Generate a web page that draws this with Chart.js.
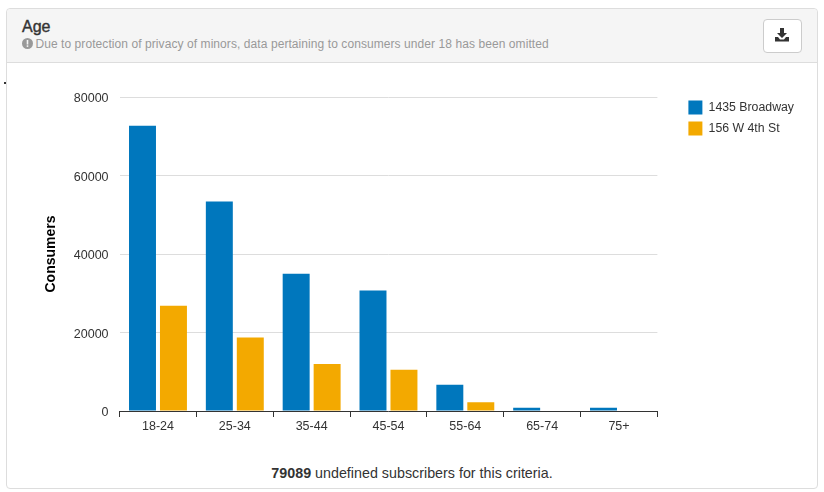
<!DOCTYPE html>
<html>
<head>
<meta charset="utf-8">
<script src="https://cdn.jsdelivr.net/npm/chart.js@4"></script>
<style>
    html, body { margin: 0; padding: 0; background: #fff; }
    body { width: 824px; height: 492px; position: relative; overflow: hidden; font-family: "Liberation Sans", Arial, sans-serif; }
    .panel { position: absolute; left: 6px; top: 8px; width: 810px; height: 479px; border: 1px solid #ddd; border-radius: 4px; }
    .panel-head { position: absolute; left: 0; top: 0; width: 100%; height: 53px; background: #f5f5f5; border-bottom: 1px solid #ddd; border-radius: 4px 4px 0 0; }
    .panel-title { position: absolute; left: 15px; top: 9px; font-size: 16px; line-height: 18px; color: #333; -webkit-text-stroke: 0.4px #333; }
    .panel-note { position: absolute; left: 15px; top: 27px; font-size: 12px; letter-spacing: 0.075px; line-height: 16px; color: #999; white-space: nowrap; }
    .panel-note svg { vertical-align: -1px; margin-right: -1px; }
    .btn { position: absolute; left: 756px; top: 10px; width: 37px; height: 32px; background: #fff; border: 1px solid #ccc; border-radius: 4px; }
    .btn svg { position: absolute; left: 11px; top: 8px; }
    .foot { position: absolute; left: 0; top: 465px; width: 824px; text-align: center; font-size: 14.3px; line-height: 16px; color: #333; }
    .dot { position: absolute; left: 4px; top: 82px; width: 2px; height: 2px; background: #333; }
    canvas { position: absolute; left: 0; top: 0; }
</style>
</head>
<body>
<div class="panel">
    <div class="panel-head">
        <div class="panel-title">Age</div>
        <div class="panel-note"><svg width="11" height="11" viewBox="0 0 11 11"><circle cx="5.5" cy="5.5" r="5.5" fill="#999"/><rect x="4.7" y="2" width="1.6" height="4.5" fill="#f5f5f5"/><rect x="4.7" y="7.3" width="1.6" height="1.6" fill="#f5f5f5"/></svg> Due to protection of privacy of minors, data pertaining to consumers under 18 has been omitted</div>
        <div class="btn"><svg width="14" height="14" viewBox="0 0 14 14"><path d="M5 0h4v5h3L7 10 2 5h3z" fill="#333"/><path d="M0 9h3l2 2.5h4L11 9h3v4.5H0z" fill="#333"/></svg></div>
    </div>
</div>
<div class="dot"></div>
<div class="foot"><b>79089</b> undefined subscribers for this criteria.</div>
<div style="position:absolute;left:0;top:0;width:824px;height:492px"><canvas id="ageChart"></canvas></div>
<script>
const categories = ['18-24', '25-34', '35-44', '45-54', '55-64', '65-74', '75+'];
const broadwayValues = [72700, 53400, 35000, 30700, 6700, 800, 800];
const west4thValues = [26800, 18700, 12000, 10500, 2200, 100, 0];
const yTicks = [0, 20000, 40000, 60000, 80000];

const textColor = '#333';
const fontFamily = '"Liberation Sans", Arial, sans-serif';

// the legend sits above the plot top and well right of the plot in the original
const nudgeLegend = {
    id: 'nudgeLegend',
    afterLayout(chart) {
        chart.legend.top -= 3.5;
        chart.legend.left += 24;
        chart.legend.right += 24;
    }
};

new Chart(document.getElementById('ageChart'), {
    type: 'bar',
    data: {
        labels: categories,
        datasets: [
            { label: '1435 Broadway', data: broadwayValues, backgroundColor: '#0077bd' },
            { label: '156 W 4th St', data: west4thValues, backgroundColor: '#f3a900' }
        ]
    },
    options: {
        responsive: true,
        maintainAspectRatio: false,
        animation: false,
        layout: { padding: { left: 43, top: 97, right: 44, bottom: 56 } },
        datasets: { bar: { categoryPercentage: 0.806, barPercentage: 0.871 } },
        plugins: {
            tooltip: { enabled: false },
            legend: {
                position: 'right',
                align: 'start',
                labels: {
                    boxWidth: 14,
                    boxHeight: 14,
                    padding: 7,
                    color: textColor,
                    font: { family: fontFamily, size: 12.3 }
                }
            }
        },
        scales: {
            x: {
                grid: { drawOnChartArea: false, color: '#333', tickLength: 6, tickColor: '#333' },
                border: { color: '#333' },
                ticks: { color: textColor, padding: 2, maxRotation: 0, font: { family: fontFamily, size: 12.5 } }
            },
            y: {
                min: 0,
                max: 80000,
                afterBuildTicks(scale) {
                    scale.ticks = yTicks.map(v => ({ value: v }));
                },
                grid: { color: '#ddd', drawTicks: false },
                border: { display: false },
                ticks: {
                    color: textColor,
                    padding: 11,
                    labelOffset: 2,
                    font: { family: fontFamily, size: 12.5 },
                    callback: value => String(value)
                },
                title: {
                    display: true,
                    text: 'Consumers',
                    color: '#000',
                    padding: { top: 0, bottom: 3 },
                    font: { family: fontFamily, size: 14, weight: 'bold' }
                }
            }
        }
    },
    plugins: [nudgeLegend]
});
</script>
</body>
</html>
